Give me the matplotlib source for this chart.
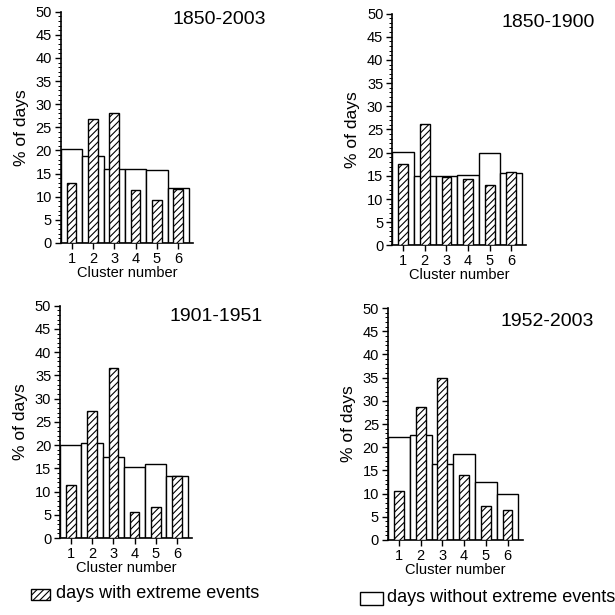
import matplotlib
matplotlib.use("Agg")
import matplotlib.pyplot as plt
from matplotlib.patches import Rectangle
from matplotlib.ticker import MultipleLocator

plt.rcParams["font.family"] = ["Liberation Sans", "DejaVu Sans"]
plt.rcParams["hatch.linewidth"] = 0.8

clusters = [1, 2, 3, 4, 5, 6]
periods = ["1850-2003", "1850-1900", "1901-1951", "1952-2003"]

# days without extreme events (white, wide bars)
without_1850_2003 = [20.3, 18.9, 16.0, 16.0, 15.7, 11.8]
without_1850_1900 = [20.2, 15.0, 15.0, 15.2, 20.0, 15.6]
without_1901_1951 = [20.1, 20.4, 17.5, 15.3, 16.0, 13.3]
without_1952_2003 = [22.2, 22.7, 16.3, 18.6, 12.4, 10.0]

# days with extreme events (hatched, narrow bars)
with_1850_2003 = [13.0, 26.9, 28.0, 11.4, 9.3, 11.7]
with_1850_1900 = [17.5, 26.2, 14.8, 14.3, 13.0, 15.9]
with_1901_1951 = [11.5, 27.4, 36.5, 5.7, 6.7, 13.4]
with_1952_2003 = [10.5, 28.6, 34.9, 14.0, 7.4, 6.4]

without_all = [without_1850_2003, without_1850_1900, without_1901_1951, without_1952_2003]
with_all = [with_1850_2003, with_1850_1900, with_1901_1951, with_1952_2003]

fig = plt.figure(figsize=(6.15, 6.15), dpi=100)

# [left, bottom, width, height], title x, title y (figure fraction)
boxes = [
    ([0.099, 0.605, 0.215, 0.376], 0.356, 0.968),
    ([0.638, 0.601, 0.218, 0.377], 0.891, 0.963),
    ([0.098, 0.125, 0.214, 0.378], 0.352, 0.485),
    ([0.631, 0.122, 0.219, 0.377], 0.889, 0.478),
]

for (rect, tx, ty), per, wo, wi in zip(boxes, periods, without_all, with_all):
    ax = fig.add_axes(rect)
    ax.bar(clusters, wo, width=1.0, color="white", edgecolor="black", linewidth=1.0, zorder=2)
    ax.bar(clusters, wi, width=0.45, color="white", edgecolor="black", linewidth=1.0,
           hatch="/////", zorder=3)
    ax.set_xlim(0.5, 6.7)
    ax.set_ylim(0, 50)
    ax.set_xticks(clusters)
    ax.yaxis.set_major_locator(MultipleLocator(5))
    ax.yaxis.set_minor_locator(MultipleLocator(1))
    ax.tick_params(axis="both", which="major", direction="out", length=4.5, width=1.0,
                   labelsize=10.5, pad=2)
    ax.tick_params(axis="y", which="minor", direction="out", length=2, width=0.7)
    ax.spines["top"].set_visible(False)
    ax.spines["right"].set_visible(False)
    ax.spines["left"].set_linewidth(1.2)
    ax.spines["bottom"].set_linewidth(1.2)
    ax.set_xlabel("Cluster number", fontsize=10.5, labelpad=0)
    ax.set_ylabel("% of days", fontsize=12.5, labelpad=5)
    fig.text(tx, ty, per, fontsize=14, ha="center", va="center")

# legend
fig.patches.append(Rectangle((31 / 615, 1 - 600 / 615), 19 / 615, 11 / 615,
                             transform=fig.transFigure, facecolor="white",
                             edgecolor="black", linewidth=1.0, hatch="/////"))
fig.text(56 / 615, 1 - 594 / 615, "days with extreme events", fontsize=13, va="center")
fig.patches.append(Rectangle((360 / 615, 1 - 605 / 615), 23 / 615, 13 / 615,
                             transform=fig.transFigure, facecolor="white",
                             edgecolor="black", linewidth=1.0))
fig.text(387 / 615, 1 - 597 / 615, "days without extreme events", fontsize=13, va="center")

fig.savefig("out.png", dpi=100)
